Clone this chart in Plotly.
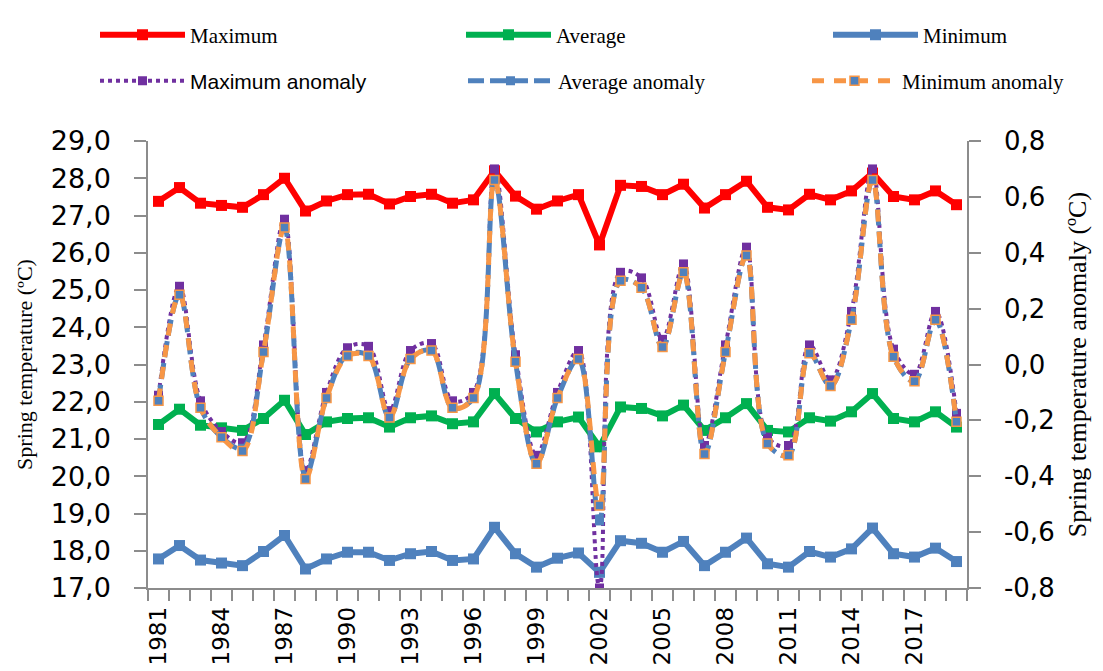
import plotly.graph_objects as go

years = list(range(1981, 2020))

t_max = [27.38, 27.75, 27.33, 27.27, 27.22, 27.56, 28.00, 27.12, 27.39, 27.56,
         27.57, 27.31, 27.51, 27.57, 27.33, 27.42, 28.20, 27.52, 27.17, 27.39,
         27.56, 26.21, 27.81, 27.78, 27.56, 27.84, 27.20, 27.56, 27.92, 27.22,
         27.15, 27.57, 27.42, 27.66, 28.14, 27.51, 27.42, 27.66, 27.29]

t_avg = [21.39, 21.80, 21.37, 21.30, 21.23, 21.55, 22.04, 21.12, 21.46, 21.55,
         21.57, 21.32, 21.57, 21.62, 21.41, 21.46, 22.22, 21.55, 21.19, 21.46,
         21.59, 20.79, 21.86, 21.82, 21.62, 21.91, 21.23, 21.57, 21.95, 21.23,
         21.19, 21.57, 21.48, 21.73, 22.22, 21.55, 21.46, 21.73, 21.32]

t_min = [17.78, 18.14, 17.75, 17.67, 17.60, 17.98, 18.41, 17.51, 17.78, 17.96,
         17.96, 17.74, 17.92, 17.98, 17.74, 17.78, 18.63, 17.92, 17.56, 17.80,
         17.94, 17.42, 18.27, 18.20, 17.96, 18.25, 17.60, 17.96, 18.34, 17.65,
         17.56, 17.98, 17.83, 18.05, 18.61, 17.92, 17.83, 18.07, 17.71]

anom_max = [-0.11, 0.28, -0.13, -0.24, -0.28, 0.07, 0.52, -0.38, -0.10, 0.06,
            0.065, -0.165, 0.05, 0.075, -0.13, -0.10, 0.70, 0.035, -0.325, -0.10,
            0.05, -0.80, 0.33, 0.31, 0.09, 0.36, -0.29, 0.07, 0.42, -0.26,
            -0.29, 0.07, -0.055, 0.19, 0.70, 0.055, -0.035, 0.19, -0.175]

anom_avg = [-0.13, 0.25, -0.155, -0.26, -0.30, 0.045, 0.49, -0.40, -0.12, 0.035,
            0.03, -0.19, 0.02, 0.05, -0.155, -0.12, 0.66, 0.01, -0.355, -0.12,
            0.02, -0.56, 0.30, 0.275, 0.063, 0.33, -0.32, 0.045, 0.39, -0.283,
            -0.325, 0.04, -0.077, 0.16, 0.66, 0.028, -0.06, 0.16, -0.205]

anom_min = [-0.13, 0.25, -0.155, -0.26, -0.31, 0.045, 0.49, -0.41, -0.12, 0.03,
            0.03, -0.19, 0.02, 0.05, -0.155, -0.12, 0.66, 0.01, -0.355, -0.12,
            0.02, -0.505, 0.30, 0.275, 0.063, 0.33, -0.32, 0.045, 0.39, -0.283,
            -0.325, 0.04, -0.077, 0.16, 0.66, 0.028, -0.06, 0.16, -0.205]

x_tick_years = [1981, 1984, 1987, 1990, 1993, 1996, 1999, 2002, 2005, 2008, 2011, 2014, 2017]
x_tick_labels = [str(y) for y in x_tick_years]
left_ticks = [17, 18, 19, 20, 21, 22, 23, 24, 25, 26, 27, 28, 29]
left_tick_labels = ["17,0", "18,0", "19,0", "20,0", "21,0", "22,0", "23,0",
                    "24,0", "25,0", "26,0", "27,0", "28,0", "29,0"]
right_ticks = [-0.8, -0.6, -0.4, -0.2, 0.0, 0.2, 0.4, 0.6, 0.8]
right_tick_labels = ["-0,8", "-0,6", "-0,4", "-0,2", "0,0", "0,2", "0,4", "0,6", "0,8"]

RED = "#FF0000"
GREEN = "#00B050"
BLUE = "#4F81BD"
PURPLE = "#7030A0"
ORANGE = "#F79646"
AXIS = "#8C8C8C"

W, H = 1103, 671
ML, MR, MT, MB = 140, 144, 133, 91
PW, PH = W - ML - MR, H - MT - MB

fig = go.Figure()

fig.add_trace(go.Scatter(x=years, y=t_max, name="Maximum", mode="lines+markers",
                         line=dict(color=RED, width=6),
                         marker=dict(symbol="square", size=11, color=RED),
                         legend="legend"))
fig.add_trace(go.Scatter(x=years, y=t_avg, name="Average", mode="lines+markers",
                         line=dict(color=GREEN, width=6),
                         marker=dict(symbol="square", size=11, color=GREEN),
                         legend="legend2"))
fig.add_trace(go.Scatter(x=years, y=t_min, name="Minimum", mode="lines+markers",
                         line=dict(color=BLUE, width=6),
                         marker=dict(symbol="square", size=11, color=BLUE),
                         legend="legend3"))

fig.add_trace(go.Scatter(x=years, y=anom_max, name='<span style="font-family:Liberation Sans">Maximum anomaly</span>',
                         mode="lines+markers", yaxis="y2",
                         line=dict(color=PURPLE, width=4, dash="dot", shape="spline", smoothing=1),
                         marker=dict(symbol="square", size=9, color=PURPLE),
                         legend="legend4"))
fig.add_trace(go.Scatter(x=years, y=anom_avg, name="Average anomaly",
                         mode="lines+markers", yaxis="y2",
                         line=dict(color=BLUE, width=5, dash="16px,6px", shape="spline", smoothing=1),
                         marker=dict(symbol="square", size=9, color=BLUE),
                         legend="legend5"))
fig.add_trace(go.Scatter(x=years, y=anom_min, name="Minimum anomaly",
                         mode="lines+markers", yaxis="y2",
                         line=dict(color=ORANGE, width=5, dash="12px,10px", shape="spline", smoothing=1),
                         marker=dict(symbol="square", size=9, color=BLUE,
                                     line=dict(color=ORANGE, width=1.5)),
                         legend="legend6"))

def leg(xpx, ypx):
    return dict(x=(xpx - ML) / PW, y=(H - MB - ypx) / PH, xref="paper", yref="paper",
                xanchor="left", yanchor="middle", orientation="v",
                font=dict(family="Liberation Serif", size=21, color="black"),
                bgcolor="rgba(0,0,0,0)", borderwidth=0, itemwidth=85)

fig.update_layout(
    width=W, height=H,
    margin=dict(l=ML, r=MR, t=MT, b=MB, autoexpand=False),
    paper_bgcolor="white", plot_bgcolor="white",
    showlegend=True,
    legend=leg(87, 27),
    legend2=leg(453, 27),
    legend3=leg(820, 27),
    legend4=leg(87, 73),
    legend5=leg(455, 73),
    legend6=leg(799, 73),
    xaxis=dict(
        range=[1980.5, 2019.5], tickmode="array", tickvals=x_tick_years, ticktext=x_tick_labels,
        tickangle=-90, ticks="outside", ticklen=8, tickcolor="rgba(0,0,0,0)",
        tickfont=dict(family="DejaVu Sans", size=23, color="black"),
        showline=True, linecolor=AXIS, linewidth=1.5, showgrid=False, zeroline=False,
        minor=dict(ticks="outside", ticklen=11, tickcolor=AXIS, tickwidth=1.5,
                   tick0=1980.5, dtick=1, showgrid=False),
    ),
    yaxis=dict(
        range=[17, 29], tickmode="array", tickvals=left_ticks, ticktext=left_tick_labels,
        ticks="outside", ticklen=12, tickcolor=AXIS, tickwidth=1.5,
        ticklabelstandoff=18,
        tickfont=dict(family="DejaVu Sans", size=27, color="black"),
        showline=True, linecolor=AXIS, linewidth=1.5, showgrid=False, zeroline=False,
        title=dict(text="Spring temperature (ºC)", standoff=12,
                   font=dict(family="Liberation Serif", size=22, color="black")),
    ),
    yaxis2=dict(
        range=[-0.8, 0.8], tickmode="array", tickvals=right_ticks, ticktext=right_tick_labels,
        overlaying="y", side="right",
        ticks="outside", ticklen=12, tickcolor=AXIS, tickwidth=1.5,
        ticklabelstandoff=18,
        tickfont=dict(family="DejaVu Sans", size=26, color="black"),
        showline=True, linecolor=AXIS, linewidth=1.5, showgrid=False, zeroline=False,
        title=dict(text="Spring temperature anomaly (ºC)", standoff=14,
                   font=dict(family="Liberation Serif", size=26, color="black")),
    ),
)

fig.write_html("out.html")
